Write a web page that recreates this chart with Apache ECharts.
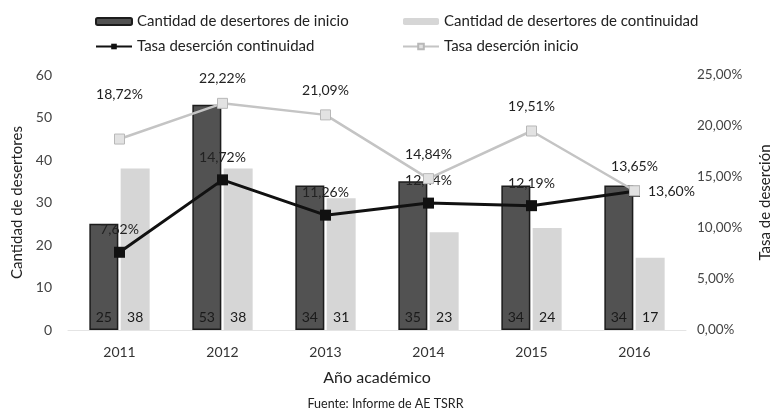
<!DOCTYPE html>
<html>
<head>
<meta charset="utf-8">
<script src="https://cdn.jsdelivr.net/npm/echarts@6/dist/echarts.min.js"></script>
<style>
  * { margin: 0; padding: 0; }
  body { background: #fff; }
</style>
</head>
<body>
<div id="chart" style="width: 771px;height: 415px;"></div>
<script>
  // datos
  const years = ['2011', '2012', '2013', '2014', '2015', '2016']
  const desertoresInicio = [25, 53, 34, 35, 34, 34]
  const desertoresContinuidad = [38, 38, 31, 23, 24, 17]
  const tasaContinuidad = [7.62, 14.72, 11.26, 12.44, 12.19, 13.60]
  const tasaInicio = [18.72, 22.22, 21.09, 14.84, 19.51, 13.65]
  const countTicks = [0, 60, 10]
  const rateTicks = [0, 25, 5]

  const font = 'Lato'
  const pct = v => v.toFixed(2).replace('.', ',') + '%'

  let myChart = echarts.init(document.getElementById('chart'))
  myChart.setOption({
    animation: false,
    textStyle: {fontFamily: font},
    title: {
      text: 'Fuente: Informe de AE TSRR',
      left: 'center',
      bottom: 0,
      textStyle: {fontFamily: font, fontSize: 12.5, fontWeight: 'normal', color: '#222'}
    },
    legend: [
      {
        left: 90,
        top: 9,
        orient: 'vertical',
        itemGap: 10,
        itemWidth: 36,
        itemHeight: 7,
        textStyle: {fontFamily: font, fontSize: 15, color: '#222'},
        data: ['Cantidad de desertores de inicio', 'Tasa deserción continuidad']
      },
      {
        left: 397,
        top: 9,
        orient: 'vertical',
        itemGap: 10,
        itemWidth: 36,
        itemHeight: 7,
        textStyle: {fontFamily: font, fontSize: 15, color: '#222'},
        data: ['Cantidad de desertores de continuidad', 'Tasa deserción inicio']
      }
    ],
    grid: {left: 68, right: 85, top: 75, bottom: 85, outerBoundsMode: 'none', containLabel: false},
    xAxis: {
      type: 'category',
      data: years,
      name: 'Año académico',
      nameLocation: 'middle',
      nameGap: 40,
      nameTextStyle: {fontSize: 16, color: '#222'},
      axisLine: {lineStyle: {color: '#e4e4e4'}},
      axisTick: {show: false},
      axisLabel: {fontSize: 14, color: '#333', margin: 15}
    },
    yAxis: [
      {
        type: 'value',
        min: countTicks[0],
        max: countTicks[1],
        interval: countTicks[2],
        name: 'Cantidad de desertores',
        nameLocation: 'middle',
        nameGap: 42,
        nameTextStyle: {fontSize: 15, color: '#222'},
        splitLine: {show: false},
        axisLabel: {fontSize: 14, color: '#444', margin: 16}
      },
      {
        type: 'value',
        min: rateTicks[0],
        max: rateTicks[1],
        interval: rateTicks[2],
        name: 'Tasa de deserción',
        nameLocation: 'middle',
        nameRotate: 90,
        nameGap: 72,
        nameTextStyle: {fontSize: 15, color: '#222'},
        splitLine: {show: false},
        axisLabel: {fontSize: 13.5, color: '#444', margin: 11, formatter: pct}
      }
    ],
    series: [
      {
        name: 'Cantidad de desertores de inicio',
        type: 'bar',
        data: desertoresInicio,
        barWidth: 29,
        barGap: '8%',
        itemStyle: {color: '#525252', borderColor: '#1c1c1c', borderWidth: 1.5},
        label: {show: true, position: 'insideBottom', distance: 6, fontSize: 14, color: '#1a1a1a'}
      },
      {
        name: 'Cantidad de desertores de continuidad',
        type: 'bar',
        data: desertoresContinuidad,
        barWidth: 29,
        itemStyle: {color: '#d6d6d6'},
        label: {show: true, position: 'insideBottom', distance: 6, fontSize: 14, color: '#1a1a1a'}
      },
      {
        name: 'Tasa deserción inicio',
        type: 'line',
        yAxisIndex: 1,
        data: tasaInicio.map((v, i) => i === 0 ? {value: v, label: {offset: [0, -20]}} : v),
        symbol: 'rect',
        symbolSize: 10,
        lineStyle: {color: '#c4c4c4', width: 2.5},
        itemStyle: {color: '#e2e2e2', borderColor: '#b8b8b8', borderWidth: 1},
        label: {show: true, position: 'top', distance: 12, fontSize: 14, color: '#222', formatter: p => pct(p.value)},
        z: 5
      },
      {
        name: 'Tasa deserción continuidad',
        type: 'line',
        yAxisIndex: 1,
        data: tasaContinuidad.map((v, i) => i === 5 ? {value: v, label: {position: 'right', distance: 8}} : v),
        symbol: 'rect',
        symbolSize: 11,
        lineStyle: {color: '#111', width: 3},
        itemStyle: {color: '#111'},
        label: {show: true, position: 'top', distance: 10, fontSize: 14, color: '#222', formatter: p => pct(p.value)},
        z: 4
      }
    ]
  })
</script>
</body>
</html>
